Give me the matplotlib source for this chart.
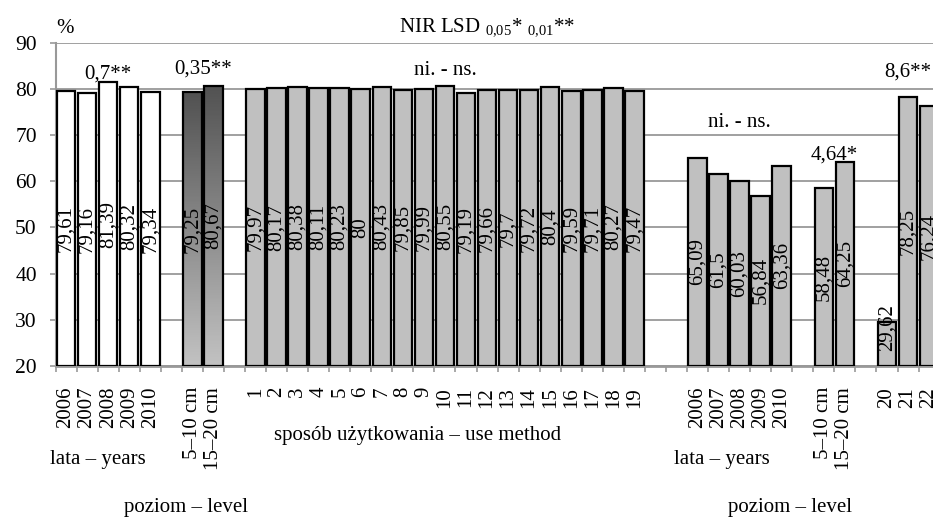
import matplotlib.pyplot as plt
import numpy as np
from matplotlib.colors import LinearSegmentedColormap

plt.rcParams['font.family'] = ['Liberation Serif', 'DejaVu Serif']
plt.rcParams['mathtext.fontset'] = 'custom'
plt.rcParams['mathtext.rm'] = 'Liberation Serif'

# dane - data
years = ['2006', '2007', '2008', '2009', '2010']
levels = ['5–10 cm', '15–20 cm']
methods_a = [str(i) for i in range(1, 20)]
methods_b = ['20', '21', '22']

years_a_vals = [79.61, 79.16, 81.39, 80.32, 79.34]
levels_a_vals = [79.25, 80.67]
methods_a_vals = [79.97, 80.17, 80.38, 80.11, 80.23, 80, 80.43, 79.85, 79.99, 80.55,
                  79.19, 79.66, 79.7, 79.72, 80.4, 79.59, 79.71, 80.27, 79.47]
years_b_vals = [65.09, 61.5, 60.03, 56.84, 63.36]
levels_b_vals = [58.48, 64.25]
methods_b_vals = [29.62, 78.25, 76.24]

# (labels, values, fill, empty slots after group)
groups = [
    (years, years_a_vals, 'white', 1),
    (levels, levels_a_vals, 'gradient', 1),
    (methods_a, methods_a_vals, '#c0c0c0', 2),
    (years, years_b_vals, '#c0c0c0', 1),
    (levels, levels_b_vals, '#c0c0c0', 1),
    (methods_b, methods_b_vals, '#c0c0c0', 0),
]

# NIR / LSD annotations: (text, group index, y)
lsd_notes = [('0,7**', 0, 82.2), ('0,35**', 1, 83.3), ('ni. - ns.', 2, 83.0),
             ('ni. - ns.', 3, 71.7), ('4,64*', 4, 64.8), ('8,6**', 5, 82.7)]

grad_cmap = LinearSegmentedColormap.from_list('bar_grad', ['#525252', '#c2c2c2'])

n_slots = 43
slot_px = 21.05
fig = plt.figure(figsize=(9.33, 5.18), dpi=100)
ax = fig.add_axes([0.0595, 0.2934, n_slots * slot_px / 933, 0.6242])
ymin, ymax = 20, 90

tick_pos, tick_lab, centers = [], [], []
start = 0
for labels, vals, fill, gap in groups:
    pos = start + np.arange(len(labels))
    centers.append(pos.mean())
    if fill == 'gradient':
        bars = ax.bar(pos, np.array(vals) - ymin, bottom=ymin, width=0.88,
                      color='none', edgecolor='black', linewidth=1.6, zorder=3)
        grad = np.linspace(0, 1, 100).reshape(-1, 1)
        for b, v in zip(bars, vals):
            x0 = b.get_x()
            im = ax.imshow(grad, cmap=grad_cmap, vmin=0, vmax=1, aspect='auto',
                           extent=[x0, x0 + b.get_width(), ymin, v], origin='upper',
                           zorder=2)
            im.set_clip_path(b)
    else:
        ax.bar(pos, np.array(vals) - ymin, bottom=ymin, width=0.88,
               color=fill, edgecolor='black', linewidth=1.6, zorder=3)
    for p, v in zip(pos, vals):
        ax.text(p, max((v + ymin) / 2, 28.3), f'{v:g}'.replace('.', ','),
                rotation=90, ha='center', va='center', fontsize=15, zorder=4)
    tick_pos += list(pos)
    tick_lab += labels
    start += len(labels) + gap

for txt, gi, y in lsd_notes:
    ax.text(centers[gi], y, txt, ha='center', va='baseline', fontsize=15)

ax.set_xlim(-0.5, n_slots - 0.5)
ax.set_ylim(ymin, ymax)
ax.set_yticks(range(20, 91, 10))
ax.set_xticks(tick_pos)
ax.set_xticklabels(tick_lab, rotation=90, fontsize=15)
ax.set_xticks(np.arange(-0.5, n_slots, 1), minor=True)
ax.tick_params(axis='x', which='major', length=0, pad=15)
ax.tick_params(axis='x', which='minor', length=4, width=1.2, color='#999999')
ax.tick_params(axis='y', length=4.5, width=1.2, color='#999999', labelsize=15.5, pad=9)

ax.yaxis.grid(True, color='#999999', linewidth=1.3)
ax.set_axisbelow(True)
for s in ['top', 'right']:
    ax.spines[s].set_visible(False)
ax.spines['left'].set_color('#999999')
ax.spines['left'].set_linewidth(1.5)
ax.spines['bottom'].set_color('#999999')
ax.spines['bottom'].set_linewidth(2)

fig.text(65 / 933, 1 - 33 / 518, '%', ha='center', va='baseline', fontsize=15)
fig.text(487 / 933, 1 - 31.7 / 518, r'NIR LSD $_{\mathrm{0{,}05}}$* $_{\mathrm{0{,}01}}$**',
         ha='center', va='baseline', fontsize=15)

fig.text(98 / 933, 0.112, 'lata – years', ha='center', va='center', fontsize=15)
fig.text(418 / 933, 0.160, 'sposób użytkowania – use method', ha='center', va='center', fontsize=15)
fig.text(186 / 933, 0.021, 'poziom – level', ha='center', va='center', fontsize=15)
fig.text(722 / 933, 0.112, 'lata – years', ha='center', va='center', fontsize=15)
fig.text(790 / 933, 0.021, 'poziom – level', ha='center', va='center', fontsize=15)

fig.savefig('out.png', dpi=100)
